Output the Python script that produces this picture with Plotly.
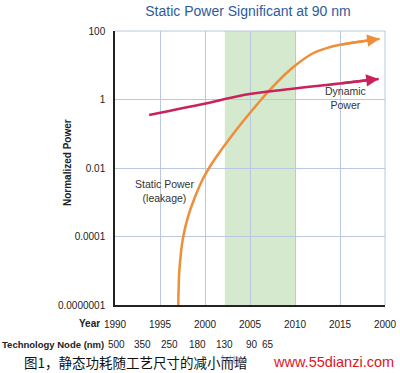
import numpy as np
import plotly.graph_objects as go

# ---- data ----
static_years = [1997.03, 1997.15, 1997.55, 1998.14, 1998.9, 1999.8, 2000.5, 2001.7, 2003.0, 2004.1,
                2005.2, 2006.0, 2007.0, 2008.0, 2009.0, 2010.2, 2012.0, 2013.5, 2015.0, 2019.4]
static_power = [1e-6, 1e-5, 8.9e-5, 3.98e-4, 1.45e-3, 5.0e-3, 0.0105, 0.0309, 0.0891, 0.209,
                0.468, 0.832, 1.66, 3.16, 5.75, 10.7, 22.4, 31.6, 39.8, 58.9]

dyn_years = [1993.8, 1999.8, 2003.9, 2007.0, 2015.0, 2019.3]
dyn_power = [0.355, 0.74, 1.29, 1.70, 2.95, 3.98]

year_ticks = [1990, 1995, 2000, 2005, 2010, 2015, 2020]
year_labels = ["1990", "1995", "2000", "2005", "2010", "2015", "2000"]

power_ticks = [100, 1, 0.01, 0.0001, 0.000001]
power_labels = ["100", "1", "0.01", "0.0001", "0.0000001"]

node_years = [1990.2, 1993.1, 1996.1, 1999.2, 2002.2, 2005.2, 2007.0]
node_labels = ["500", "350", "250", "180", "130", "90", "65"]

band = [2002.2, 2010.0]

ORANGE = "#ee8e38"
CRIMSON = "#c8245a"
GRID = "#b9c8e0"
FONT = "Liberation Sans, Arial, sans-serif"
TXT = "#222222"

L, R, T, B = 115, 15, 31, 68
W, H = 400, 373
pw, ph = W - L - R, H - T - B


def px_x(x):
    return (x - L) / pw


def px_y(y):
    return (H - B - y) / ph


fig = go.Figure()
fig.add_trace(go.Scatter(x=static_years, y=static_power, mode="lines",
                         line=dict(color=ORANGE, width=2.5, shape="spline", smoothing=0.8),
                         hoverinfo="skip", showlegend=False))
fig.add_trace(go.Scatter(x=dyn_years, y=dyn_power, mode="lines",
                         line=dict(color=CRIMSON, width=2.5, shape="spline", smoothing=0.8),
                         hoverinfo="skip", showlegend=False))

ann = []
# arrowheads
for xs, ys, col in [(static_years, static_power, ORANGE), (dyn_years, dyn_power, CRIMSON)]:
    ann.append(dict(x=xs[-1], y=np.log10(ys[-1]), ax=xs[-2], ay=np.log10(ys[-2]),
                    xref="x", yref="y", axref="x", ayref="y", text="", showarrow=True,
                    arrowhead=2, arrowsize=1.0, arrowwidth=2.5, arrowcolor=col, standoff=0))

ann.append(dict(x=1995.5, y=-2.67, xref="x", yref="y", text="Static Power<br>(leakage)",
                showarrow=False, xanchor="center", yanchor="middle",
                font=dict(family=FONT, size=10.5, color="#333333")))
ann.append(dict(x=2015.6, y=0.03, xref="x", yref="y", text="Dynamic<br>Power",
                showarrow=False, xanchor="center", yanchor="middle",
                font=dict(family=FONT, size=10.5, color="#333333")))

# y title
ann.append(dict(x=px_x(67), y=px_y(163), xref="paper", yref="paper", text="<b>Normalized Power</b>",
                textangle=-90, showarrow=False, xanchor="center", yanchor="middle",
                font=dict(family=FONT, size=10, color=TXT)))
# Year label
ann.append(dict(x=px_x(102), y=px_y(323), xref="paper", yref="paper", text="<b>Year</b>",
                showarrow=False, xanchor="right", yanchor="middle",
                font=dict(family=FONT, size=10, color=TXT)))
# Technology node row
ann.append(dict(x=px_x(0), y=px_y(344), xref="paper", yref="paper", text="<b>Technology Node (nm)</b>",
                showarrow=False, xanchor="left", yanchor="middle",
                font=dict(family=FONT, size=9.5, color=TXT)))
for yr, lab in zip(node_years, node_labels):
    ann.append(dict(x=yr, y=px_y(344), xref="x", yref="paper", text=lab, showarrow=False,
                    xanchor="center", yanchor="middle",
                    font=dict(family=FONT, size=10, color=TXT)))
# caption
ann.append(dict(x=px_x(22), y=px_y(362), xref="paper", yref="paper", text="图1，静态功耗随工艺尺寸的减小而增",
                showarrow=False, xanchor="left", yanchor="middle",
                font=dict(family="Noto Sans CJK SC", size=13.5, color="#111111")))
ann.append(dict(x=px_x(396), y=px_y(362), xref="paper", yref="paper", text="www.55dianzi.com",
                showarrow=False, xanchor="right", yanchor="middle",
                font=dict(family=FONT, size=14.5, color="#e0141e")))
ann.append(dict(x=px_x(232), y=px_y(360), xref="paper", yref="paper", text="<b>http</b>",
                showarrow=False, xanchor="center", yanchor="middle",
                font=dict(family=FONT, size=12, color="rgba(110,140,190,0.55)")))

shapes = [
    dict(type="rect", xref="x", yref="paper", x0=band[0], x1=band[1], y0=0, y1=1,
         fillcolor="#d5e9cf", line=dict(width=0), layer="below"),
    dict(type="line", xref="paper", yref="paper", x0=0, x1=1, y0=1, y1=1,
         line=dict(color=GRID, width=1), layer="below"),
    dict(type="line", xref="paper", yref="paper", x0=1, x1=1, y0=0, y1=1,
         line=dict(color=GRID, width=1), layer="below"),
]

fig.update_layout(
    width=W, height=H,
    margin=dict(l=L, r=R, t=T, b=B, autoexpand=False),
    paper_bgcolor="white", plot_bgcolor="white",
    title=dict(text="Static Power Significant at 90 nm", x=248 / W, xanchor="center",
               y=1 - 11 / H, yanchor="middle",
               font=dict(family=FONT, size=14, color="#2d5b9b")),
    xaxis=dict(range=[1990, 2020], tickvals=year_ticks, ticktext=year_labels,
               showgrid=True, gridcolor=GRID, gridwidth=1, zeroline=False,
               showline=True, linecolor=TXT, linewidth=1.5,
               ticks="", ticklabelstandoff=9,
               tickfont=dict(family=FONT, size=10, color=TXT)),
    yaxis=dict(type="log", range=[-6, 2], tickvals=power_ticks, ticktext=power_labels,
               showgrid=True, gridcolor=GRID, gridwidth=1, zeroline=False,
               showline=True, linecolor=TXT, linewidth=1.5,
               ticks="", ticklabelstandoff=6,
               tickfont=dict(family=FONT, size=10, color=TXT)),
    annotations=ann, shapes=shapes, showlegend=False,
)

fig.write_html("out.html", config={"displayModeBar": False},
               post_script="document.body.style.margin='0';document.body.style.overflow='hidden';")
